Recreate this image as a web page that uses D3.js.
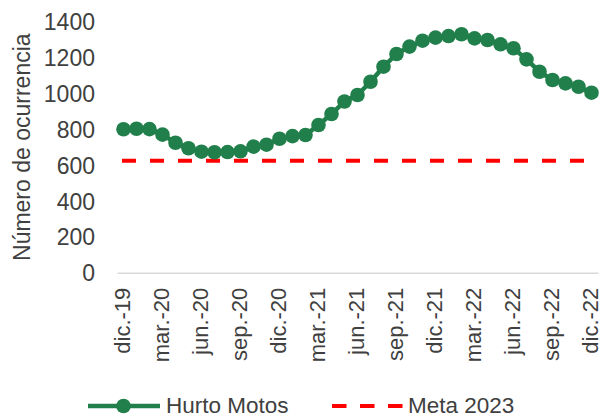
<!DOCTYPE html>
<html>
<head>
<meta charset="utf-8">
<script src="https://cdn.jsdelivr.net/npm/d3@7"></script>
<style>
  body { margin: 0; background: #fff; }
  text { font-family: "Liberation Sans", Arial, sans-serif; fill: #404040; }
</style>
</head>
<body>
<div id="chart"></div>
<script>
var svgWidth = 602;
var svgHeight = 418;

var margin = { top: 21.7, right: 4, bottom: 145.3, left: 117 };
var width = svgWidth - margin.left - margin.right;
var height = svgHeight - margin.top - margin.bottom;

// months dic.-19 .. dic.-22
var months = ["dic.-19","ene.-20","feb.-20","mar.-20","abr.-20","may.-20","jun.-20","jul.-20","ago.-20","sep.-20","oct.-20","nov.-20",
  "dic.-20","ene.-21","feb.-21","mar.-21","abr.-21","may.-21","jun.-21","jul.-21","ago.-21","sep.-21","oct.-21","nov.-21",
  "dic.-21","ene.-22","feb.-22","mar.-22","abr.-22","may.-22","jun.-22","jul.-22","ago.-22","sep.-22","oct.-22","nov.-22","dic.-22"];

var hurtoMotos = [800, 803, 801, 770, 725, 694, 675, 672, 673, 677, 703, 714,
  747, 762, 768, 824, 885, 955, 991, 1065, 1149, 1220, 1261, 1294,
  1311, 1320, 1330, 1307, 1298, 1274, 1252, 1190, 1121, 1075, 1056, 1037, 1004];

var meta2023 = 625;

var yTicks = [0, 200, 400, 600, 800, 1000, 1200, 1400];
var xTickLabels = months.filter(function(d, i) { return i % 3 === 0; });

var green = "#217f4b";
var red = "#ff0000";

var svg = d3.select("#chart")
  .append("svg")
  .attr("width", svgWidth)
  .attr("height", svgHeight);

var chartGroup = svg.append("g")
  .attr("transform", `translate(${margin.left}, ${margin.top})`);

var x = d3.scaleBand()
  .domain(months)
  .range([0, width])
  .padding(0);

var y = d3.scaleLinear()
  .domain([0, 1400])
  .range([height, 0]);

var cx = function(d) { return x(d) + x.bandwidth() / 2; };

// y axis (labels only)
var leftAxis = d3.axisLeft(y).tickValues(yTicks).tickFormat(d3.format("d")).tickSize(0).tickPadding(22);
var yAxisG = chartGroup.append("g").call(leftAxis);
yAxisG.select(".domain").remove();
yAxisG.selectAll("text")
  .attr("font-size", "23px")
  .attr("dy", "0.35em")
  .style("fill", "#404040");

// x axis
var bottomAxis = d3.axisBottom(x).tickValues(xTickLabels).tickSize(0);
var xAxisG = chartGroup.append("g")
  .attr("transform", `translate(0, ${height})`)
  .call(bottomAxis);
xAxisG.select(".domain").attr("stroke", "#d9d9d9").attr("stroke-width", 1.5);
xAxisG.selectAll("text")
  .attr("font-size", "22px")
  .attr("transform", "rotate(-90)")
  .attr("x", -15)
  .attr("y", 0)
  .attr("dy", "0.28em")
  .style("text-anchor", "end")
  .style("fill", "#404040");

// meta line
chartGroup.append("line")
  .attr("x1", cx(months[0]) - 1.5)
  .attr("x2", cx(months[months.length - 1]))
  .attr("y1", y(meta2023))
  .attr("y2", y(meta2023))
  .attr("stroke", red)
  .attr("stroke-width", 4)
  .attr("stroke-dasharray", "14,14");

// hurto line
var line = d3.line()
  .x(function(d, i) { return cx(months[i]); })
  .y(function(d) { return y(d); });

chartGroup.append("path")
  .datum(hurtoMotos)
  .attr("d", line)
  .attr("fill", "none")
  .attr("stroke", green)
  .attr("stroke-width", 4.5);

chartGroup.selectAll("circle")
  .data(hurtoMotos)
  .enter()
  .append("circle")
  .attr("cx", function(d, i) { return cx(months[i]); })
  .attr("cy", function(d) { return y(d); })
  .attr("r", 7.3)
  .attr("fill", green);

// y axis title
svg.append("text")
  .attr("transform", `translate(30, ${margin.top + height / 2}) rotate(-90)`)
  .attr("font-size", "23px")
  .style("text-anchor", "middle")
  .text("Número de ocurrencia");

// legend
var legend = svg.append("g").attr("transform", "translate(0, 406)");
legend.append("line")
  .attr("x1", 88).attr("x2", 160).attr("y1", 0).attr("y2", 0)
  .attr("stroke", green).attr("stroke-width", 4.5);
legend.append("circle")
  .attr("cx", 123.5).attr("cy", 0).attr("r", 7.3).attr("fill", green);
legend.append("text")
  .attr("x", 166).attr("y", 7)
  .attr("font-size", "22.5px")
  .text("Hurto Motos");
legend.append("line")
  .attr("x1", 332).attr("x2", 403).attr("y1", 0).attr("y2", 0)
  .attr("stroke", red).attr("stroke-width", 4)
  .attr("stroke-dasharray", "14.5,13.5");
legend.append("text")
  .attr("x", 408).attr("y", 7)
  .attr("font-size", "22.5px")
  .text("Meta 2023");
</script>
</body>
</html>
